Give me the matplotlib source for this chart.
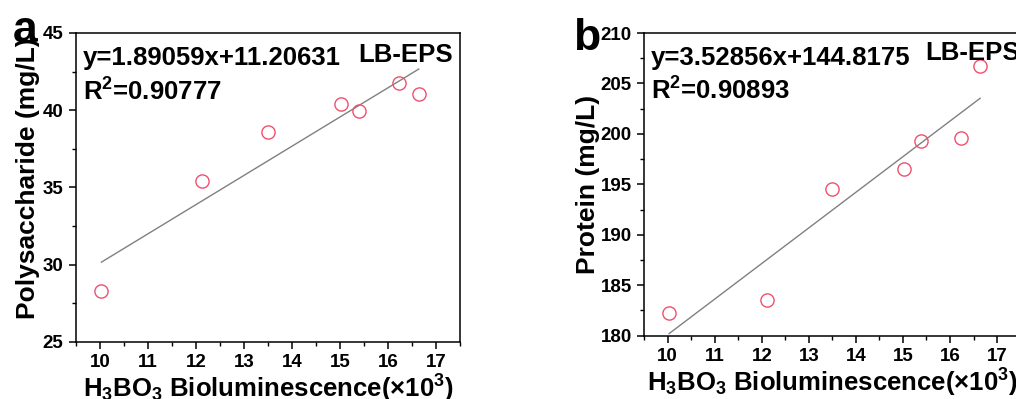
import numpy as np
import matplotlib
matplotlib.use("Agg")
import matplotlib.pyplot as plt
from matplotlib.ticker import MultipleLocator

plt.rcParams['font.family'] = ['Liberation Sans', 'DejaVu Sans']
plt.rcParams['font.weight'] = 'bold'
plt.rcParams['mathtext.fontset'] = 'custom'
plt.rcParams['mathtext.rm'] = 'Liberation Sans:bold'
plt.rcParams['mathtext.it'] = 'Liberation Sans:bold'
plt.rcParams['mathtext.bf'] = 'Liberation Sans:bold'

# data
biolum = [10.03, 12.12, 13.50, 15.02, 15.39, 16.23, 16.64]
polysaccharide = [28.28, 35.42, 38.61, 40.43, 39.93, 41.76, 41.03]
protein = [182.22, 183.50, 194.52, 196.57, 199.32, 199.62, 206.69]

fit_a = (1.89059, 11.20631)
fit_b = (3.52856, 144.8175)
eq_a = "y=1.89059x+11.20631"
eq_b = "y=3.52856x+144.8175"
r2_a = "R$^2$=0.90777"
r2_b = "R$^2$=0.90893"

xlabel = r"H$_3$BO$_3$ Bioluminescence(×10$^3$)"
marker_color = '#f0506e'

fig = plt.figure(figsize=(10.16, 3.99), dpi=100)
ax_a = fig.add_axes([0.0748, 0.1429, 0.378, 0.7744])
ax_b = fig.add_axes([0.634, 0.1586, 0.3705, 0.7586])


def draw_panel(ax, y, fit, eq, r2, ylim, ylabel, ylab_x, ylab_y, eps_x, eps_y):
    x = np.array(biolum)
    ax.plot(x, y, 'o', mfc='none', mec=marker_color, ms=9.5, mew=1.0, zorder=3)
    xs = np.array([x.min(), x.max()])
    ax.plot(xs, fit[0] * xs + fit[1], color='#808080', lw=1.0, zorder=2)

    ax.set_xlim(9.5, 17.5)
    ax.set_ylim(*ylim)
    ax.xaxis.set_major_locator(MultipleLocator(1))
    ax.xaxis.set_minor_locator(MultipleLocator(0.5))
    ax.yaxis.set_major_locator(MultipleLocator(5))
    ax.yaxis.set_minor_locator(MultipleLocator(2.5))
    ax.tick_params(which='major', direction='out', length=5, width=1.1,
                   labelsize=13.5, pad=4)
    ax.tick_params(which='minor', direction='out', length=2.8, width=1.0)
    for s in ax.spines.values():
        s.set_linewidth(1.1)

    ax.set_xlabel(xlabel, fontsize=18.5, fontweight='bold', labelpad=1)
    ax.set_ylabel(ylabel, fontsize=19, fontweight='bold')
    ax.yaxis.set_label_coords(ylab_x, ylab_y)

    ax.text(0.018, 0.895, eq, transform=ax.transAxes, fontsize=18.5,
            fontweight='bold', va='baseline', ha='left')
    ax.text(0.018, 0.781, r2, transform=ax.transAxes, fontsize=18.5,
            fontweight='bold', va='baseline', ha='left')
    ax.text(eps_x, eps_y, "LB-EPS", transform=ax.transAxes, fontsize=18.5,
            fontweight='bold', va='baseline', ha='left')


draw_panel(ax_a, polysaccharide, fit_a, eq_a, r2_a, (25, 45),
           "Polysaccharide (mg/L)", -0.093, 0.53, 0.734, 0.906)
draw_panel(ax_b, protein, fit_b, eq_b, r2_b, (180, 210),
           "Protein (mg/L)", -0.117, 0.5, 0.746, 0.911)

fig.text(0.0128, 0.895, "a", fontsize=32, fontweight='bold', va='baseline')
fig.text(0.564, 0.875, "b", fontsize=32, fontweight='bold', va='baseline')

fig.savefig("out.png", dpi=100)
